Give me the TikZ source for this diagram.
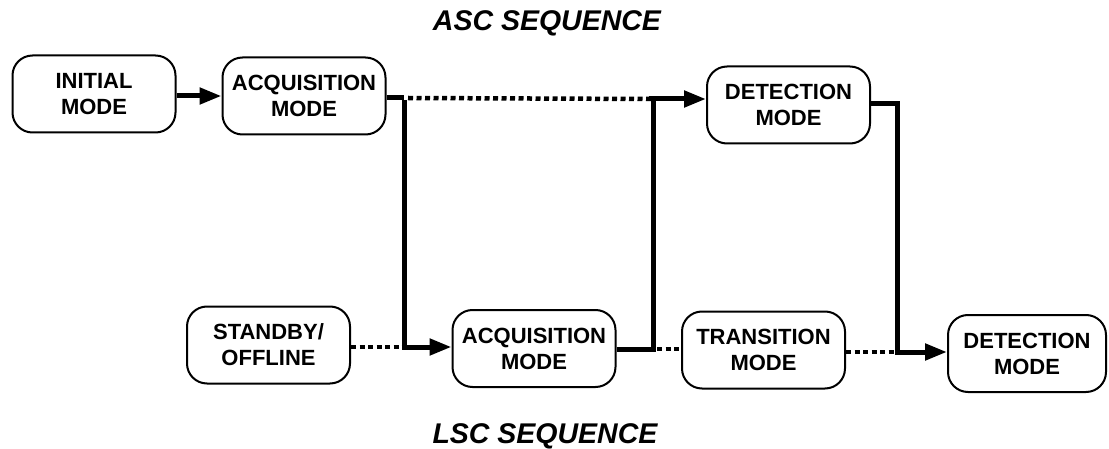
\documentclass[tikz,border=0pt]{standalone}
\usepackage{fontspec}
\setmainfont{Liberation Sans}
\usetikzlibrary{arrows.meta}
\begin{document}
\begin{tikzpicture}[x=1pt,y=-1pt,
  modebox/.style={draw=black, line width=2pt, rounded corners=20pt,
    minimum width=163pt, minimum height=77pt, align=center,
    font=\fontsize{22}{26}\selectfont\bfseries, inner sep=0pt},
  solidline/.style={line width=5pt, line join=miter},
  dotline/.style={line width=4.5pt, dash pattern=on 5pt off 3.5pt},
  tip/.style={-{Triangle[length=22pt,width=16pt]}},
  seqtitle/.style={font=\fontsize{28.5}{32}\selectfont\bfseries\itshape}]
\useasboundingbox (0,0) rectangle (1109,449);

\node[seqtitle] (asc) at (547,23) {ASC SEQUENCE};
\node[seqtitle] (lsc) at (545,436) {LSC SEQUENCE};

\node[modebox] (init)  at (94,94)     {INITIAL\\MODE};
\node[modebox] (acq1)  at (304,96)    {ACQUISITION\\MODE};
\node[modebox] (det1)  at (788.5,105) {DETECTION\\MODE};
\node[modebox] (stby)  at (268.5,345) {STANDBY/\\OFFLINE};
\node[modebox] (acq2)  at (534,348.5) {ACQUISITION\\MODE};
\node[modebox] (trans) at (763.5,350) {TRANSITION\\MODE};
\node[modebox, minimum width=158pt] (det2)  at (1027,353.5) {DETECTION\\MODE};

\coordinate (j1) at (404,98);
\coordinate (j2) at (651,99);
\coordinate (j3) at (404,347);
\coordinate (j4) at (651,349);
\coordinate (j5) at (895,104);
\coordinate (j6) at (895,352);

% ASC path
\draw[solidline, tip] (init.east |- acq1) -- (acq1.west);
\draw[solidline] (acq1.east |- j1) -- (j1);
\draw[dotline] ([xshift=4pt]j1) -- (j2);
\draw[solidline, tip] ([xshift=-2.5pt]j2) -- (j2 -| det1.west);
\draw[solidline] (det1.east |- j5) -- ([xshift=2.5pt]j5) -- ([xshift=2.5pt]j6);

% crossovers
\draw[solidline] ([yshift=-2.5pt]j1) -- (j3);
\draw[solidline, tip] ([xshift=-2.5pt]j3) -- (j3 -| acq2.west);
\draw[solidline] (acq2.east |- j4) -- ([xshift=2.5pt]j4) -- ([xshift=2.5pt,yshift=-2.5pt]j2);

% LSC path
\draw[dotline] (stby.east |- j3) -- ([xshift=-3pt]j3);
\draw[dotline] ([xshift=6pt]j4) -- (j4 -| trans.west);
\draw[dotline] (trans.east |- j6) -- ([xshift=-1pt]j6);
\draw[solidline, tip] (j6) -- (j6 -| det2.west);
\end{tikzpicture}
\end{document}
